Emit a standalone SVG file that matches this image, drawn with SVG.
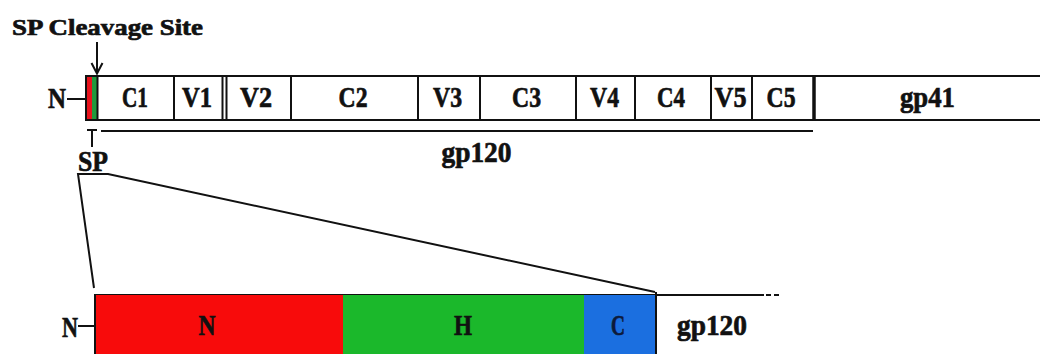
<svg xmlns="http://www.w3.org/2000/svg" width="1040" height="354" viewBox="0 0 1040 354">
  <style>
    .t { font-family: "Liberation Serif", "Times New Roman", serif; font-weight: bold; fill: #111; stroke: #111; stroke-width: 0.7; }
    .lbl { font-size: 30px; text-anchor: middle; }
    .ln { stroke: #111; stroke-width: 2; fill: none; }
  </style>
  <rect x="0" y="0" width="1040" height="354" fill="#ffffff"/>

  <g id="title">
    <text class="t" x="12" y="35" font-size="24" textLength="191" lengthAdjust="spacingAndGlyphs">SP Cleavage Site</text>
  </g>

  <g id="connectors">
    <line class="ln" x1="97" y1="42" x2="97" y2="73"/>
    <polyline class="ln" points="91.5,63 97,73.5 102.5,63"/>
    <line class="ln" x1="67" y1="99" x2="86" y2="99"/>
    <line class="ln" x1="101" y1="131" x2="813" y2="131"/>
    <line class="ln" x1="87" y1="130" x2="97" y2="130"/>
    <line class="ln" x1="92" y1="130" x2="92" y2="147"/>
    <polyline class="ln" points="94,288 78,174 108,174 655,292"/>
    <line class="ln" x1="78" y1="326" x2="95" y2="326"/>
    <line class="ln" x1="95" y1="295" x2="764" y2="295"/>
    <line class="ln" x1="766" y1="295" x2="771" y2="295"/>
    <line class="ln" x1="774" y1="295" x2="779" y2="295"/>
  </g>

  <g id="env-bar">
    <rect x="86" y="76" width="970" height="44" fill="#fff" stroke="#111" stroke-width="2"/>
    <rect x="87" y="77" width="5" height="42" fill="#e8121c"/>
    <rect x="92" y="77" width="5" height="42" fill="#1f9a3c"/>
    <g class="ln">
      <line x1="97.5" y1="76" x2="97.5" y2="120"/>
      <line x1="174" y1="76" x2="174" y2="120"/>
      <line x1="222.5" y1="76" x2="222.5" y2="120"/>
      <line x1="226.5" y1="76" x2="226.5" y2="120"/>
      <line x1="291" y1="76" x2="291" y2="120"/>
      <line x1="418" y1="76" x2="418" y2="120"/>
      <line x1="480" y1="76" x2="480" y2="120"/>
      <line x1="576" y1="76" x2="576" y2="120"/>
      <line x1="635" y1="76" x2="635" y2="120"/>
      <line x1="711" y1="76" x2="711" y2="120"/>
      <line x1="752" y1="76" x2="752" y2="120"/>
    </g>
    <line x1="814" y1="75" x2="814" y2="121" stroke="#111" stroke-width="3.5"/>
  </g>

  <g id="N-top"><text class="t lbl" x="57" y="108" textLength="18" lengthAdjust="spacingAndGlyphs">N</text></g>
  <g id="C1"><text class="t lbl" x="135" y="107" textLength="26" lengthAdjust="spacingAndGlyphs">C1</text></g>
  <g id="V1"><text class="t lbl" x="197" y="107" textLength="30" lengthAdjust="spacingAndGlyphs">V1</text></g>
  <g id="V2"><text class="t lbl" x="256" y="107" textLength="32" lengthAdjust="spacingAndGlyphs">V2</text></g>
  <g id="C2"><text class="t lbl" x="353" y="107" textLength="29" lengthAdjust="spacingAndGlyphs">C2</text></g>
  <g id="V3"><text class="t lbl" x="447.5" y="107" textLength="29" lengthAdjust="spacingAndGlyphs">V3</text></g>
  <g id="C3"><text class="t lbl" x="526.5" y="107" textLength="29" lengthAdjust="spacingAndGlyphs">C3</text></g>
  <g id="V4"><text class="t lbl" x="604.5" y="107" textLength="29" lengthAdjust="spacingAndGlyphs">V4</text></g>
  <g id="C4"><text class="t lbl" x="671" y="107" textLength="28" lengthAdjust="spacingAndGlyphs">C4</text></g>
  <g id="V5"><text class="t lbl" x="730.5" y="107" textLength="32" lengthAdjust="spacingAndGlyphs">V5</text></g>
  <g id="C5"><text class="t lbl" x="781" y="107" textLength="29" lengthAdjust="spacingAndGlyphs">C5</text></g>
  <g id="gp41"><text class="t lbl" x="927.5" y="107" textLength="55" lengthAdjust="spacingAndGlyphs">gp41</text></g>
  <g id="gp120-top"><text class="t lbl" x="476.5" y="162" textLength="70" lengthAdjust="spacingAndGlyphs">gp120</text></g>
  <g id="SP"><text class="t lbl" x="93" y="171" textLength="30" lengthAdjust="spacingAndGlyphs">SP</text></g>

  <g id="sp-bar">
    <rect x="95" y="295" width="248" height="65" fill="#f80b0b"/>
    <rect x="343" y="295" width="241" height="65" fill="#1bb82b"/>
    <rect x="584" y="295" width="72" height="65" fill="#1b6fe0"/>
    <line x1="95" y1="294" x2="95" y2="354" stroke="#111" stroke-width="2"/>
    <line x1="656" y1="292" x2="656" y2="354" stroke="#111" stroke-width="2"/>
  </g>

  <g id="N-bottom"><text class="t lbl" x="70" y="337" textLength="16" lengthAdjust="spacingAndGlyphs">N</text></g>
  <g id="N-region"><text class="t lbl" x="207" y="335" textLength="17" lengthAdjust="spacingAndGlyphs">N</text></g>
  <g id="H-region"><text class="t lbl" x="463" y="335" textLength="18" lengthAdjust="spacingAndGlyphs">H</text></g>
  <g id="C-region"><text class="t lbl" x="618" y="335" textLength="14" lengthAdjust="spacingAndGlyphs" style="fill:#0d1a3a;stroke:#0d1a3a">C</text></g>
  <g id="gp120-bottom"><text class="t lbl" x="712" y="335" textLength="70" lengthAdjust="spacingAndGlyphs">gp120</text></g>
</svg>
